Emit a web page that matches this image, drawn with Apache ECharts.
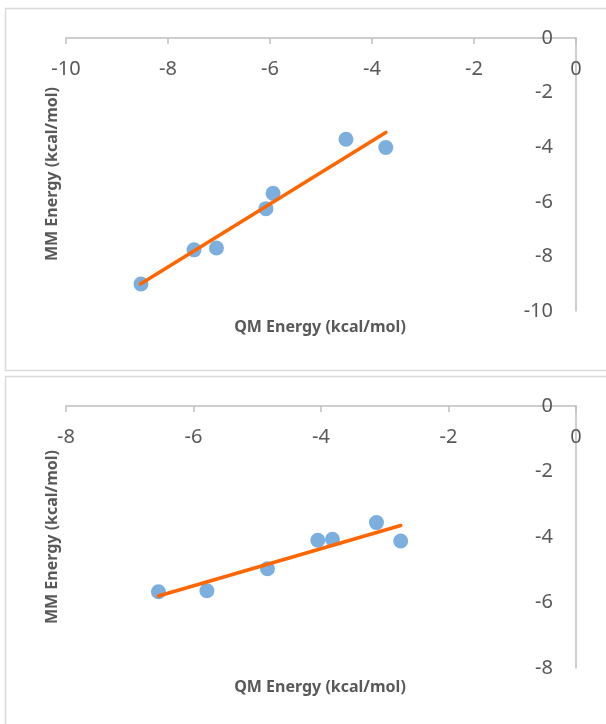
<!DOCTYPE html>
<html>
<head>
<meta charset="utf-8">
<script src="https://cdn.jsdelivr.net/npm/echarts@6/dist/echarts.min.js"></script>
<style>
html,body{margin:0;padding:0;background:#fff;}
#c{width:606px;height:724px;}
</style>
</head>
<body>
<div id="c"></div>
<script>
// Top chart data
const topQM = [-8.53, -7.49, -7.05, -6.08, -5.94, -4.51, -3.73];
const topMM = [-9.01, -7.76, -7.69, -6.25, -5.69, -3.71, -4.01];
const topTrendQM = [-8.54, -3.73];
const topTrendMM = [-9.01, -3.46];
const topXRange = [-10, 0];
const topYRange = [-10, 0];

// Bottom chart data
const botQM = [-6.55, -5.79, -4.84, -4.05, -3.82, -3.13, -2.75];
const botMM = [-5.67, -5.64, -4.97, -4.10, -4.07, -3.56, -4.12];
const botTrendQM = [-6.55, -2.75];
const botTrendMM = [-5.80, -3.65];
const botXRange = [-8, 0];
const botYRange = [-8, 0];

const tickStep = 2;
const xTitle = 'QM Energy (kcal/mol)';
const yTitle = 'MM Energy (kcal/mol)';

const FONT = '"Noto Sans", sans-serif';
const TXT = '#595959';
const AX = '#bfbfbf';

function zip(a, b) { return a.map((v, i) => [v, b[i]]); }

function xAxisDef(gi, range) {
  return {
    type: 'value', gridIndex: gi, position: 'top',
    min: range[0], max: range[1], interval: tickStep,
    axisLine: { show: true, onZero: false, lineStyle: { color: AX, width: 1.5 } },
    axisTick: { show: true, inside: true, length: 6, lineStyle: { color: AX, width: 1.5 } },
    axisLabel: { inside: true, margin: 21, color: TXT, fontSize: 20, fontFamily: FONT,
                 showMinLabel: true, showMaxLabel: true, hideOverlap: false },
    splitLine: { show: false }
  };
}
function yAxisDef(gi, range) {
  return {
    type: 'value', gridIndex: gi, position: 'right',
    min: range[0], max: range[1], interval: tickStep,
    axisLine: { show: true, onZero: false, lineStyle: { color: AX, width: 1.5 } },
    axisTick: { show: false },
    axisLabel: { inside: true, margin: 23, color: TXT, fontSize: 20, fontFamily: FONT,
                 showMinLabel: true, showMaxLabel: true, hideOverlap: false },
    splitLine: { show: false }
  };
}

const chart = echarts.init(document.getElementById('c'), null, { renderer: 'canvas' });
chart.setOption({
  animation: false,
  backgroundColor: '#fff',
  grid: [
    { left: 66, right: 30, top: 38, height: 273 },
    { left: 66, right: 30, top: 406, height: 262 }
  ],
  xAxis: [xAxisDef(0, topXRange), xAxisDef(1, botXRange)],
  yAxis: [yAxisDef(0, topYRange), yAxisDef(1, botYRange)],
  series: [
    { type: 'scatter', xAxisIndex: 0, yAxisIndex: 0, data: zip(topQM, topMM),
      symbolSize: 15, itemStyle: { color: '#5B9BD5' }, z: 2 },
    { type: 'line', xAxisIndex: 0, yAxisIndex: 0, data: zip(topTrendQM, topTrendMM),
      symbol: 'none', lineStyle: { color: '#FF6600', width: 3.5, cap: 'round' }, z: 3 },
    { type: 'scatter', xAxisIndex: 1, yAxisIndex: 1, data: zip(botQM, botMM),
      symbolSize: 15, itemStyle: { color: '#5B9BD5' }, z: 2 },
    { type: 'line', xAxisIndex: 1, yAxisIndex: 1, data: zip(botTrendQM, botTrendMM),
      symbol: 'none', lineStyle: { color: '#FF6600', width: 3.5, cap: 'round' }, z: 3 }
  ],
  graphic: [
    { type: 'rect', shape: { x: 5.5, y: 8.5, width: 640, height: 362 }, silent: true,
      style: { fill: 'none', stroke: '#d9d9d9', lineWidth: 1.5 }, z: -10 },
    { type: 'rect', shape: { x: 5.5, y: 376.5, width: 640, height: 400 }, silent: true,
      style: { fill: 'none', stroke: '#d9d9d9', lineWidth: 1.5 }, z: -10 },
    { type: 'text', x: 320, y: 327, silent: true,
      style: { text: xTitle, fill: TXT, font: 'bold 16px ' + FONT, align: 'center', verticalAlign: 'middle' } },
    { type: 'text', x: 320, y: 687, silent: true,
      style: { text: xTitle, fill: TXT, font: 'bold 16px ' + FONT, align: 'center', verticalAlign: 'middle' } },
    { type: 'text', x: 52, y: 174, rotation: Math.PI / 2, silent: true,
      style: { text: yTitle, fill: TXT, font: 'bold 16px ' + FONT, align: 'center', verticalAlign: 'middle' } },
    { type: 'text', x: 52, y: 537, rotation: Math.PI / 2, silent: true,
      style: { text: yTitle, fill: TXT, font: 'bold 16px ' + FONT, align: 'center', verticalAlign: 'middle' } }
  ]
});
</script>
</body>
</html>
